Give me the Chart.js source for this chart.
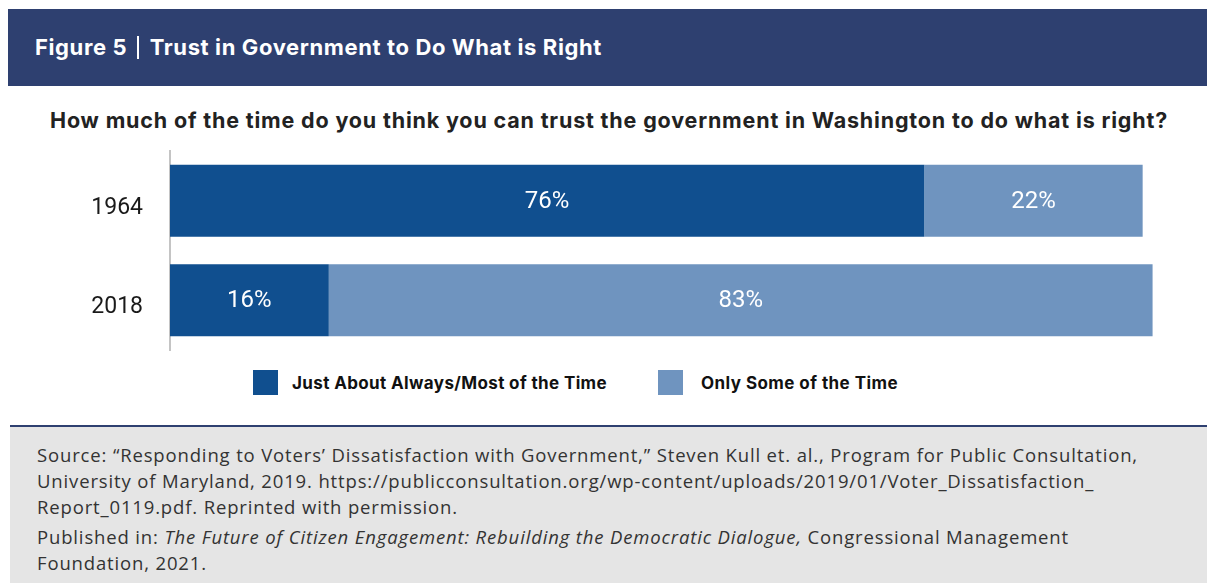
<!DOCTYPE html>
<html>
<head>
<meta charset="utf-8">
<script src="https://cdn.jsdelivr.net/npm/chart.js@4"></script>
<style>
  html, body { margin: 0; padding: 0; background: #ffffff; }
  body { width: 1207px; height: 583px; position: relative; overflow: hidden; font-family: Inter, Roboto, sans-serif; }
  .fit { white-space: nowrap; display: inline-block; }
  #header { position: absolute; left: 8px; top: 9px; width: 1199px; height: 77px; background: #2e4070; }
  #title { position: absolute; left: 27px; top: 0; line-height: 77px; font-size: 22px; font-weight: 700; color: #ffffff; }
  #title .sep { display: inline-block; width: 1.5px; height: 23px; background: #ffffff; vertical-align: -4px; margin: 0 11px 0 10px; }
  #question { position: absolute; left: 50px; top: 107px; font-size: 21.5px; line-height: 26px; font-weight: 700; color: #222222; }
  #chartWrap { position: absolute; left: 0; top: 140px; width: 1207px; height: 220px; }
  #chart { display: block; }
  .lgbox { position: absolute; top: 370px; width: 25px; height: 25px; }
  .lgtxt { position: absolute; top: 370px; line-height: 26px; font-size: 17px; font-weight: 700; color: #111111; }
  #footer { position: absolute; left: 10px; top: 425px; width: 1197px; height: 158px; background: #e5e5e5; border-top: 2.5px solid #2e4070; box-sizing: border-box; }
  .fl { position: absolute; left: 27px; font-family: "Open Sans", Roboto, sans-serif; font-size: 18.5px; line-height: 24px; color: #333333; }
</style>
</head>
<body>
<div id="header"><span id="title" class="fit">Figure 5<span class="sep"></span>Trust in Government to Do What is Right</span></div>
<span id="question" class="fit">How much of the time do you think you can trust the government in Washington to do what is right?</span>
<div id="chartWrap"><canvas id="chart" width="1207" height="220"></canvas></div>
<div id="footer">
  <span class="fl fit" id="f1" style="top:16px">Source: “Responding to Voters’ Dissatisfaction with Government,” Steven Kull et. al., Program for Public Consultation,</span>
  <span class="fl fit" id="f2" style="top:42px">University of Maryland, 2019. https://publicconsultation.org/wp-content/uploads/2019/01/Voter_Dissatisfaction_</span>
  <span class="fl fit" id="f3" style="top:68px">Report_0119.pdf. Reprinted with permission.</span>
  <span class="fl fit" id="f4" style="top:98px">Published in: <i>The Future of Citizen Engagement: Rebuilding the Democratic Dialogue,</i> Congressional Management</span>
  <span class="fl fit" id="f5" style="top:124px">Foundation, 2021.</span>
</div>
<script>
// Survey years and the share of respondents per answer (percent)
const years = ['1964', '2018'];
const alwaysMost = [76, 16];
const onlySome = [22, 83];
const seriesNames = ['Just About Always/Most of the Time', 'Only Some of the Time'];
const seriesColors = ['#104f8f', '#6f94bf'];

// Stretch a single line of text to a given width through letter spacing
function fitWidth(el, width) {
  el.style.letterSpacing = '0px';
  const natural = el.getBoundingClientRect().width;
  const n = el.textContent.length;
  const ls = (width - natural) / n;
  el.style.letterSpacing = ls + 'px';
  return ls;
}

// Write each segment's value in the middle of its bar
const valueLabels = {
  id: 'valueLabels',
  afterDatasetsDraw(chart) {
    const ctx = chart.ctx;
    ctx.save();
    ctx.fillStyle = '#ffffff';
    ctx.font = '400 24px Roboto, sans-serif';
    ctx.textAlign = 'center';
    ctx.textBaseline = 'middle';
    chart.data.datasets.forEach((ds, di) => {
      chart.getDatasetMeta(di).data.forEach((bar, i) => {
        const cx = (bar.x + bar.base) / 2;
        ctx.fillText(ds.data[i] + '%', cx, bar.y + 1);
      });
    });
    ctx.restore();
  }
};

new Chart(document.getElementById('chart'), {
  type: 'bar',
  data: {
    labels: years,
    datasets: [
      { label: seriesNames[0], data: alwaysMost, backgroundColor: seriesColors[0], categoryPercentage: 1, barPercentage: 0.7236 },
      { label: seriesNames[1], data: onlySome, backgroundColor: seriesColors[1], categoryPercentage: 1, barPercentage: 0.7236 }
    ]
  },
  options: {
    indexAxis: 'y',
    responsive: false,
    maintainAspectRatio: false,
    animation: false,
    layout: { padding: { left: 0, right: 44.5, top: 11, bottom: 10 } },
    plugins: { legend: { display: false }, tooltip: { enabled: false } },
    scales: {
      x: { stacked: true, min: 0, max: 100, display: false },
      y: {
        stacked: true,
        grid: { color: 'transparent', drawTicks: false },
        border: { display: true, color: '#c4c4c4', width: 2 },
        ticks: { padding: 27, labelOffset: 7, color: '#1a1a1a', font: { family: 'Roboto, sans-serif', size: 23 } },
        afterFit(scale) {
          // fixed axis column; the category labels sit between the bars, so no end padding is needed
          scale.width = 170;
          scale.paddingTop = 0;
          scale.paddingBottom = 0;
        }
      }
    }
  },
  plugins: [valueLabels]
});

// Legend keys
const legendX = [252.5, 658];
const legendTextX = [292, 701];
const legendTextW = [315, 197];
seriesNames.forEach((name, i) => {
  const box = document.createElement('div');
  box.className = 'lgbox';
  box.style.left = legendX[i] + 'px';
  box.style.background = seriesColors[i];
  document.body.appendChild(box);
  const t = document.createElement('span');
  t.className = 'lgtxt fit';
  t.style.left = legendTextX[i] + 'px';
  t.textContent = name;
  document.body.appendChild(t);
  fitWidth(t, legendTextW[i]);
});

fitWidth(document.getElementById('title'), 567);
fitWidth(document.getElementById('question'), 1118);
const footLs = fitWidth(document.getElementById('f1'), 1101);
['f2', 'f3', 'f4', 'f5'].forEach(id => { document.getElementById(id).style.letterSpacing = footLs + 'px'; });
</script>
</body>
</html>
